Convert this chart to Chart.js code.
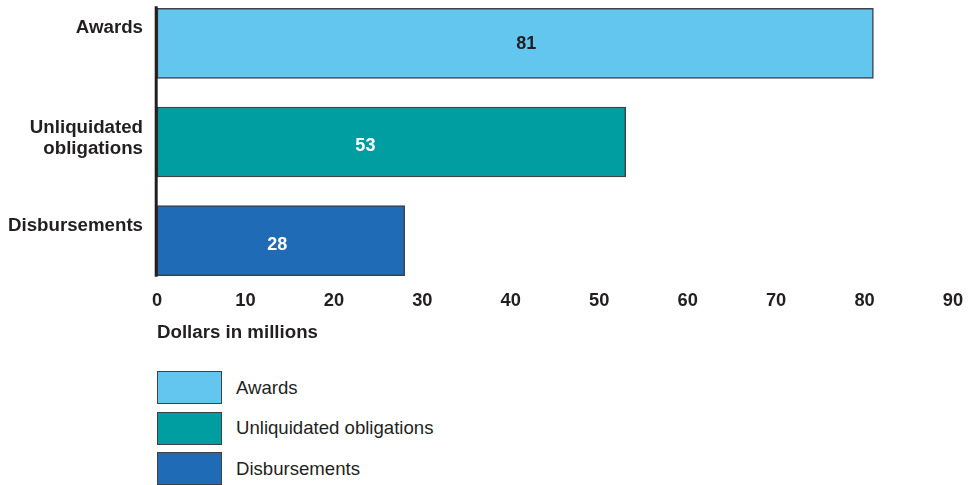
<!DOCTYPE html>
<html>
<head>
<meta charset="utf-8">
<script src="https://cdn.jsdelivr.net/npm/chart.js@4.4.0/dist/chart.umd.min.js"></script>
<style>
  body { margin:0; background:#fff; width:978px; height:485px; overflow:hidden; position:relative; font-family:"Liberation Sans", Arial, sans-serif; }
  #wrap { position:absolute; left:0; top:-6px; width:978px; height:356px; }
  #legend { position:absolute; left:157px; top:371px; }
  .item { height:33px; margin-bottom:7.5px; display:flex; align-items:center; }
  .box { width:63px; height:31px; border:1.5px solid #3d4247; }
  .lbl { margin-left:14px; font-size:18.6px; color:#231f20; }
</style>
</head>
<body>
<div id="wrap"><canvas id="bar-chart"></canvas></div>
<div id="legend"></div>
<script>
var categories = [["Awards"], ["Unliquidated", "obligations"], ["Disbursements"]];
var legendNames = ["Awards", "Unliquidated obligations", "Disbursements"];
var values = [81, 53, 28];
var barColors = ["#63c6ef", "#009ea0", "#1f6bb5"];
var valueColors = ["#231f20", "#ffffff", "#ffffff"];
var xTicks = [0, 10, 20, 30, 40, 50, 60, 70, 80, 90];

var font = "'Liberation Sans', Arial, sans-serif";
var ink = "#231f20";

// single line labels sit high in the original, give them an empty second line
var tickLabels = categories.map(function(c) { return c.length === 1 ? [c[0], ""] : c; });

// value labels inside the bars (not exactly centred in the original) + short thick axis line
var labelNudge = [[11, 0], [-26, 3], [-3.5, 3]];
var barExtras = {
  id: "barExtras",
  afterDatasetsDraw: function(chart) {
    var c = chart.ctx;
    var bars = chart.getDatasetMeta(0).data;
    c.save();
    c.font = "bold 18px " + font;
    c.textAlign = "center";
    c.textBaseline = "middle";
    bars.forEach(function(b, i) {
      c.fillStyle = valueColors[i];
      c.fillText(values[i], (b.x + b.base) / 2 + labelNudge[i][0], b.y + 1 + labelNudge[i][1]);
    });
    var first = bars[0], last = bars[bars.length - 1];
    c.strokeStyle = ink;
    c.lineWidth = 3;
    c.beginPath();
    c.moveTo(chart.chartArea.left - 0.8, first.y - first.height / 2 - 2);
    c.lineTo(chart.chartArea.left - 0.8, last.y + last.height / 2 + 1);
    c.stroke();
    c.restore();
  }
};

var ctx = document.getElementById("bar-chart");
var barChart = new Chart(ctx, {
  type: "bar",
  data: {
    labels: tickLabels,
    datasets: [
      {
        data: values,
        backgroundColor: barColors,
        borderColor: "#3d4247",
        borderWidth: 1.5,
        borderSkipped: false,
        barThickness: 70
      }
    ]
  },
  options: {
    indexAxis: "y",
    responsive: true,
    maintainAspectRatio: false,
    animation: false,
    layout: { padding: { left: 0, right: 25, top: 0, bottom: 0 } },
    plugins: { legend: { display: false }, tooltip: { enabled: false } },
    scales: {
      x: {
        min: 0,
        max: 90,
        afterBuildTicks: function(s) { s.ticks = xTicks.map(function(v) { return { value: v }; }); },
        afterFit: function(s) { s.height = 60; s.paddingLeft = 0; s.paddingRight = 0; },
        grid: { display: false, drawTicks: false },
        border: { display: false },
        ticks: { padding: 0, color: ink, font: { family: font, size: 18.3, weight: "bold" } },
        title: {
          display: true,
          text: "Dollars in millions",
          align: "start",
          color: ink,
          padding: { top: 0, bottom: 6 },
          font: { family: font, size: 18.7, weight: "bold" }
        }
      },
      y: {
        afterFit: function(s) { s.width = 157; s.paddingTop = 0; s.paddingBottom = 0; },
        grid: { display: false, drawTicks: false },
        border: { display: false },
        ticks: {
          padding: 14,
          labelOffset: -3.5,
          color: ink,
          font: function(context) {
            var single = categories[context.index] && categories[context.index].length === 1;
            return { family: font, size: 18.7, weight: "bold", lineHeight: single ? "23px" : "21px" };
          }
        }
      }
    }
  },
  plugins: [barExtras]
});

var legend = document.getElementById("legend");
legendNames.forEach(function(name, i) {
  var row = document.createElement("div");
  row.className = "item";
  row.innerHTML = '<div class="box" style="background:' + barColors[i] + '"></div><div class="lbl">' + name + '</div>';
  legend.appendChild(row);
});
</script>
</body>
</html>
